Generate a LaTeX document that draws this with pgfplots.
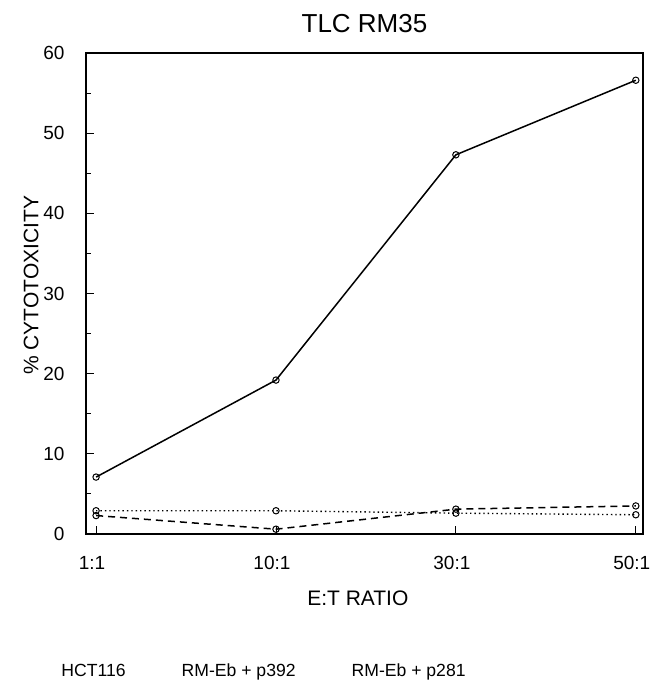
\documentclass[border=0pt]{standalone}
\usepackage{pgfplots}
\pgfplotsset{compat=1.18}
\usepackage{fontspec}
\setmainfont{Liberation Sans}
\begin{document}
\begin{tikzpicture}
\useasboundingbox (-86pt,-150pt) rectangle (566pt,534pt);
\begin{axis}[
  at={(0,0)}, anchor=south west,
  width=557pt, height=481pt, scale only axis,
  xmin=-0.056, xmax=3.04, ymin=0, ymax=60,
  xtick={0,1,2,3}, xticklabels={1:1,10:1,30:1,50:1},
  ytick={0,10,20,30,40,50,60},
  minor y tick num=1,
  tick align=inside,
  major tick length=8pt, minor tick length=5pt,
  xtick pos=bottom, ytick pos=left,
  axis line style={line width=1.5pt},
  every tick/.style={black, line width=0.9pt},
  /pgf/number format/assume math mode=true,
  tick label style={font=\fontsize{19}{22}\selectfont},
  yticklabel shift=18pt,
  xticklabel shift=19pt,
  xticklabel style={xshift=-4pt},
  title={TLC RM35},
  title style={font=\fontsize{26}{30}\selectfont, at={(axis description cs:0.5,1)}, anchor=south, yshift=11pt},
  xlabel={E:T RATIO},
  xlabel style={font=\fontsize{21}{24}\selectfont, at={(axis description cs:0.488,0)}, anchor=north, yshift=-53pt},
  ylabel={\% CYTOTOXICITY},
  ylabel style={font=\fontsize{21}{24}\selectfont, at={(axis description cs:-0.079,0.517)}, anchor=south},
  legend columns=3,
  legend image code/.code={},
  legend style={draw=none, fill=none, font=\fontsize{17.6}{21}\selectfont,
    at={(axis description cs:-0.048,0)}, anchor=north west, yshift=-128pt, inner sep=0pt,
    /tikz/every even column/.append style={column sep=52pt}},
  clip=false,
]
\addplot[black, line width=1.5pt, mark=o, mark size=3.2pt, mark options={solid, line width=1pt}]
  coordinates {(0,7.1) (1,19.2) (2,47.3) (3,56.6)};
\addlegendentry{HCT116}
\addplot[black, line width=1.5pt, dash pattern=on 7pt off 5pt, mark=o, mark size=3.2pt, mark options={solid, line width=1pt}]
  coordinates {(0,2.3) (1,0.6) (2,3.1) (3,3.5)};
\addlegendentry{RM-Eb + p392}
\addplot[black, line width=1.4pt, dash pattern=on 1.4pt off 3pt, mark=o, mark size=3.2pt, mark options={solid, line width=1pt}]
  coordinates {(0,2.9) (1,2.9) (2,2.6) (3,2.4)};
\addlegendentry{RM-Eb + p281}
\end{axis}
\end{tikzpicture}
\end{document}
